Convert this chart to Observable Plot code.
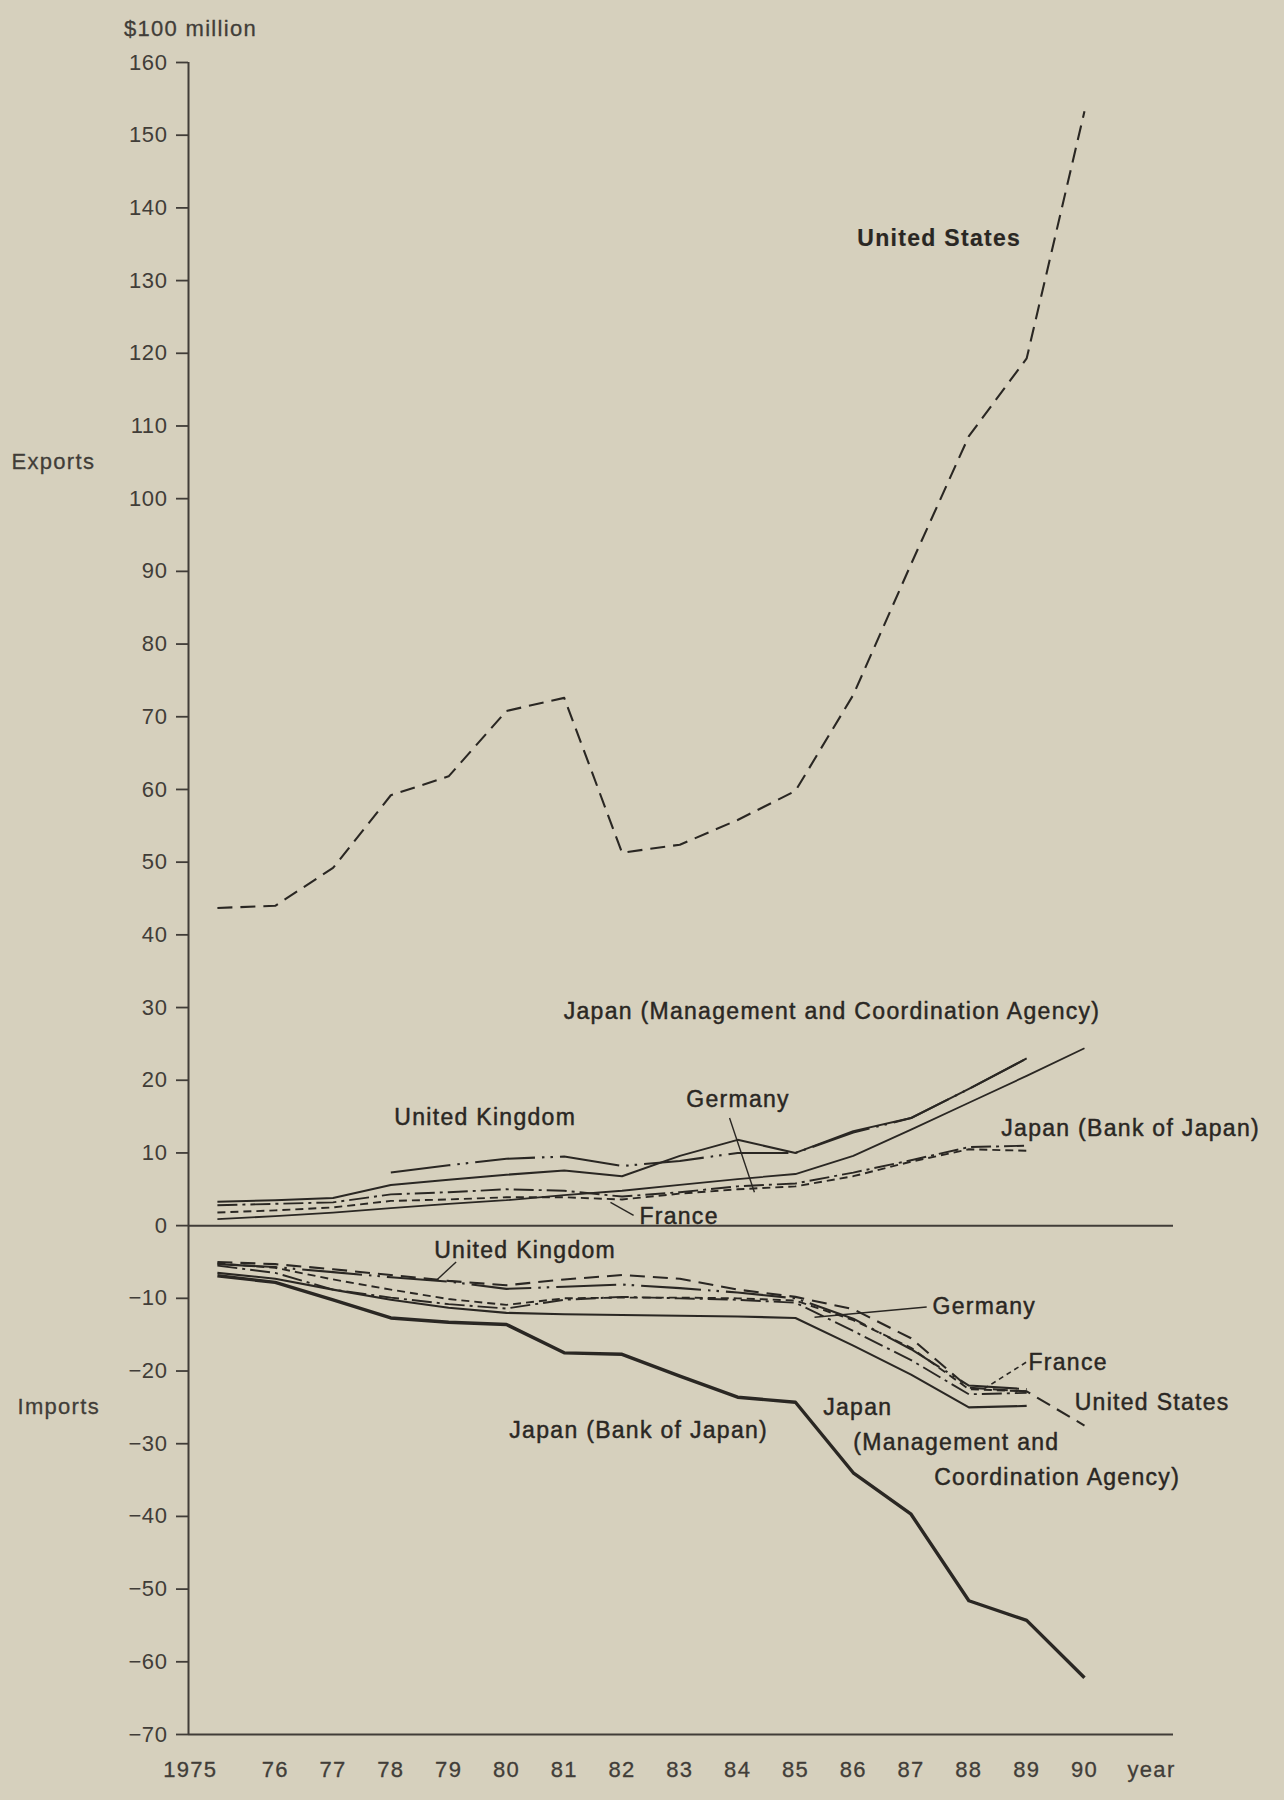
<!DOCTYPE html>
<html>
<head>
<meta charset="utf-8">
<script src="https://cdn.jsdelivr.net/npm/d3@7"></script>
<script src="https://cdn.jsdelivr.net/npm/@observablehq/plot@0.6"></script>
<style>
  html, body { margin: 0; padding: 0; background: #d6d0bd; }
  #chart svg text { letter-spacing: 1.3px; }
  #chart svg g[aria-label="y-axis tick label"] text { letter-spacing: 0.6px; }
  #chart svg g[aria-label="x-ticks"] text { letter-spacing: 0.5px; }
</style>
</head>
<body>
<div id="chart"></div>
<script>
// ---------- categories & tick labels ----------
const years = [1975, 1976, 1977, 1978, 1979, 1980, 1981, 1982, 1983, 1984, 1985, 1986, 1987, 1988, 1989, 1990];
const yearTickLabels = ["1975", "76", "77", "78", "79", "80", "81", "82", "83", "84", "85", "86", "87", "88", "89", "90"];
const yTicks = [-70, -60, -50, -40, -30, -20, -10, 0, 10, 20, 30, 40, 50, 60, 70, 80, 90, 100, 110, 120, 130, 140, 150, 160];
const unitLabel = "$100 million";
const yearWord = "year";

// ---------- exports (technology receipts, $100 million) ----------
const exportsUS       = [43.7, 44.0, 49.2, 59.2, 61.8, 70.8, 72.6, 51.3, 52.4, 55.8, 59.8, 73.0, 91.0, 108.6, 119.3, 153.3];
const exportsUK       = [null, null, null, 7.3, 8.3, 9.2, 9.5, 8.2, 8.9, 10.0, 10.0, 12.8, 14.8, 18.8, 23.0, null];
const exportsGermany  = [2.8, 3.0, 3.2, 4.3, 4.6, 5.0, 4.8, 4.0, 4.6, 5.4, 5.8, 7.3, 9.0, 10.8, 11.0, null];
const exportsFrance   = [1.8, 2.1, 2.5, 3.4, 3.6, 3.9, 3.9, 3.6, 4.4, 5.0, 5.4, 6.8, 8.8, 10.5, 10.3, null];
const exportsJapanBOJ = [0.9, 1.3, 1.8, 2.4, 3.0, 3.5, 4.2, 4.8, 5.6, 6.4, 7.1, 9.6, 13.2, 16.9, 20.6, 24.4];
const exportsJapanMCA = [3.3, 3.5, 3.8, 5.6, 6.3, 7.0, 7.6, 6.8, 9.6, 11.8, 10.0, 13.0, 14.8, 18.8, 23.0, null];

// ---------- imports (technology payments, $100 million) ----------
const importsUS       = [-5.0, -5.3, -6.0, -6.8, -7.6, -8.2, -7.4, -6.8, -7.3, -8.8, -9.8, -11.5, -15.5, -22.3, -22.8, -27.5];
const importsUK       = [-5.3, -5.7, -6.4, -7.1, -7.7, -8.7, -8.4, -8.1, -8.6, -9.2, -10.0, -12.8, -17.0, -22.0, -22.5, null];
const importsGermany  = [-5.5, -6.5, -8.8, -9.9, -10.8, -11.4, -10.2, -9.8, -10.0, -10.2, -10.6, -14.5, -18.5, -23.2, -23.0, null];
const importsFrance   = [-5.2, -5.8, -7.4, -8.8, -10.1, -10.9, -10.0, -9.9, -9.9, -10.0, -10.3, -13.0, -16.8, -22.5, -22.8, null];
const importsJapanMCA = [-6.5, -7.3, -8.8, -10.2, -11.3, -12.0, -12.2, -12.3, -12.4, -12.5, -12.7, -16.5, -20.5, -25.0, -24.8, null];
const importsJapanBOJ = [-6.9, -7.8, -10.2, -12.7, -13.3, -13.6, -17.5, -17.7, -20.7, -23.6, -24.3, -34.0, -39.7, -51.6, -54.3, -62.2];

// ---------- annotation text (data-space anchors) ----------
const seriesLabels = [
  {text: "Japan (Management and Coordination Agency)", x: 1980.99, y: 29.5},
  {text: "United Kingdom", x: 1978.06, y: 14.8},
  {text: "Germany", x: 1983.11, y: 17.4},
  {text: "Japan (Bank of Japan)", x: 1988.56, y: 13.4},
  {text: "France", x: 1982.30, y: 1.2},
  {text: "United Kingdom", x: 1978.75, y: -3.5},
  {text: "Germany", x: 1987.37, y: -11.2},
  {text: "France", x: 1989.03, y: -18.8},
  {text: "United States", x: 1989.83, y: -24.4},
  {text: "Japan (Bank of Japan)", x: 1980.05, y: -28.2},
  {text: "Japan", x: 1985.48, y: -25.0},
  {text: "(Management and", x: 1986.0, y: -29.8},
  {text: "Coordination Agency)", x: 1987.4, y: -34.6}
];
const boldLabels = [{text: "United States", x: 1986.07, y: 135.8}];
const sideLabels = [{text: "Exports", y: 105.1}, {text: "Imports", y: -25.0}];
const pointers = [
  {x1: 1983.86, y1: 14.8, x2: 1984.29, y2: 4.6},
  {x1: 1981.80, y1: 3.2, x2: 1982.20, y2: 1.4},
  {x1: 1979.13, y1: -5.0, x2: 1978.79, y2: -7.5},
  {x1: 1987.27, y1: -11.2, x2: 1985.33, y2: -12.6}
];
const dashedPointers = [{x1: 1988.99, y1: -18.8, x2: 1988.27, y2: -22.4}];

// ---------- helpers ----------
const ink = "#2a2723";
const axisInk = "#413d38";
const xDomain = [1974.5, 1991.54];
const rows = (values) => years.map((year, i) => ({year, value: values[i]})).filter(d => d.value != null);
const line = (values, dash, width) => Plot.line(rows(values), {
  x: "year", y: "value", stroke: ink, strokeWidth: width,
  strokeDasharray: dash, strokeLinejoin: "round", strokeLinecap: "butt"
});
const DASH_US = "15 8";
const DASH_UK = "60 7 2.5 6 2.5 7";
const DASH_DE = "20 5 3 5";
const DASH_FR = "8 5";

const tickRows = years.map((y, i) => ({year: y, label: yearTickLabels[i]}));
const tickText = {frameAnchor: "bottom", dy: 42, fontSize: 22, fill: axisInk, stroke: axisInk, strokeWidth: 0.3, ariaLabel: "x-ticks"};
const labelText = {textAnchor: "start", fontSize: 23, fill: ink, stroke: ink, strokeWidth: 0.45};

const chart = Plot.plot({
  width: 1284,
  height: 1800,
  marginTop: 62,
  marginBottom: 66,
  marginLeft: 188,
  marginRight: 111,
  style: {background: "#d6d0bd", fontFamily: "'Liberation Sans', Arial, sans-serif", fontSize: "22px", color: axisInk},
  x: {domain: xDomain, axis: null},
  y: {domain: [-70, 160], axis: null},
  marks: [
    // axes
    Plot.axisY({ticks: yTicks, tickSize: 12, tickPadding: 9, fontSize: 22, label: null,
      tickFormat: d => d < 0 ? "\u2212" + Math.abs(d) : String(d), strokeWidth: 1.8}),
    Plot.ruleX([xDomain[0]], {stroke: axisInk, strokeWidth: 2}),
    Plot.ruleY([-70], {stroke: axisInk, strokeWidth: 2}),
    Plot.ruleY([0], {stroke: axisInk, strokeWidth: 2}),
    // x tick labels
    Plot.text(tickRows.slice(0, 1), {x: "year", text: "label", textAnchor: "end", ...tickText}),
    Plot.text(tickRows.slice(1), {x: "year", text: "label", ...tickText}),
    Plot.text([{x: 1991.16, text: yearWord}], {x: "x", text: "text", ...tickText}),
    Plot.text([{text: unitLabel}], {text: "text", frameAnchor: "top-left", dy: -42, dx: 2, textAnchor: "middle", fontSize: 22, fill: axisInk, stroke: axisInk, strokeWidth: 0.3}),
    Plot.text(sideLabels.slice(0, 1), {y: "y", text: "text", frameAnchor: "left", dx: -177, textAnchor: "start", fontSize: 22, fill: axisInk, stroke: axisInk, strokeWidth: 0.3}),
    Plot.text(sideLabels.slice(1), {y: "y", text: "text", frameAnchor: "left", dx: -171, textAnchor: "start", fontSize: 22, fill: axisInk, stroke: axisInk, strokeWidth: 0.3}),
    // exports
    line(exportsUS, DASH_US, 2.1),
    line(exportsFrance, DASH_FR, 1.9),
    line(exportsGermany, DASH_DE, 1.9),
    line(exportsJapanBOJ, null, 1.8),
    line(exportsJapanMCA, null, 2.0),
    line(exportsUK, DASH_UK, 2.1),
    // imports
    line(importsUS, DASH_US, 2.1),
    line(importsFrance, DASH_FR, 1.9),
    line(importsGermany, DASH_DE, 1.9),
    line(importsUK, DASH_UK, 2.1),
    line(importsJapanMCA, null, 2.1),
    line(importsJapanBOJ, null, 3.4),
    // pointers
    Plot.link(pointers, {x1: "x1", y1: "y1", x2: "x2", y2: "y2", stroke: ink, strokeWidth: 1.4}),
    Plot.link(dashedPointers, {x1: "x1", y1: "y1", x2: "x2", y2: "y2", stroke: ink, strokeWidth: 1.6, strokeDasharray: "5 4"}),
    // labels
    Plot.text(seriesLabels, {x: "x", y: "y", text: "text", ...labelText}),
    Plot.text(boldLabels, {x: "x", y: "y", text: "text", ...labelText, fontWeight: "bold", strokeWidth: 0.2})
  ]
});
document.getElementById("chart").appendChild(chart);
</script>
</body>
</html>
